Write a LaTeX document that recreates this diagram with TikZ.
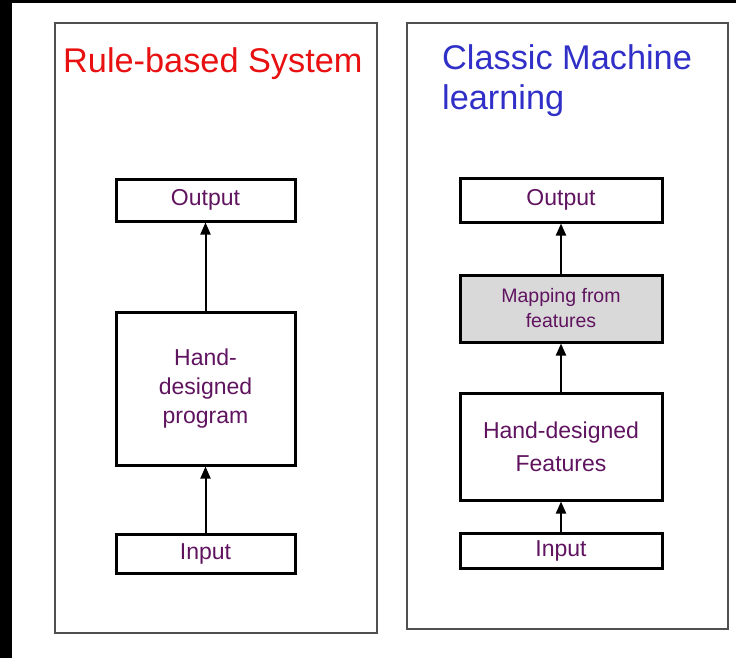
\documentclass[tikz,border=0pt]{standalone}
\usepackage{fontspec}
\setmainfont{Liberation Sans}
\usetikzlibrary{arrows.meta}
\definecolor{titlered}{RGB}{232,16,16}
\definecolor{titleblue}{RGB}{48,48,200}
\definecolor{labelpurple}{RGB}{96,20,96}
\definecolor{panelgray}{RGB}{80,80,80}
\definecolor{boxgray}{RGB}{217,217,217}
\tikzset{
  panel/.style={draw=panelgray, line width=1.5pt},
  stepbox/.style={draw=black, line width=3pt, rectangle, inner sep=0pt,
    align=center, text=labelpurple, font=\fontsize{23}{27}\selectfont},
  smallbox/.style={stepbox, fill=boxgray, font=\fontsize{19.5}{25}\selectfont},
  title/.style={anchor=base west, inner sep=0pt, font=\fontsize{34.3}{40}\selectfont},
  flow/.style={draw=black, line width=2pt, -{Triangle[width=10pt,length=12pt]}}
}
\begin{document}
\begin{tikzpicture}[x=1pt, y=-1pt]
\useasboundingbox (0,0) rectangle (736,658);
\fill[white] (0,0) rectangle (736,658);
% dark strips along the top and left edges
\fill[black] (0,0) rectangle (12,658);
\fill[black] (0,0) rectangle (736,3);

% left panel: rule-based system
\draw[panel] (55,23) rectangle (377,633);
\node[title, text=titlered] (titleL) at (63,73) {Rule-based System};
\node[stepbox, minimum width=179pt, minimum height=42pt] (outL) at (205.5,200) {Output};
\node[stepbox, minimum width=179pt, minimum height=153pt, font=\fontsize{23}{29}\selectfont] (progL) at (205.5,388.5) {Hand-\\designed\\program};
\node[stepbox, minimum width=179pt, minimum height=39pt] (inL) at (205.5,553.5) {Input};
\draw[flow] (progL) -- (outL);
\draw[flow] (inL) -- (progL);

% right panel: classic machine learning
\draw[panel] (407,23) rectangle (728,629);
\node[title, text=titleblue] (titleR) at (442,70) {Classic Machine};
\node[title, text=titleblue] (titleR2) at (442,110) {learning};
\node[stepbox, minimum width=202pt, minimum height=44pt] (outR) at (561,200) {Output};
\node[smallbox, minimum width=202pt, minimum height=67pt] (mapR) at (561,308.5) {Mapping from\\features};
\node[stepbox, minimum width=202pt, minimum height=107pt, font=\fontsize{23}{33}\selectfont] (featR) at (561,446.5) {Hand-designed\\Features};
\node[stepbox, minimum width=202pt, minimum height=35pt] (inR) at (561,550.5) {Input};
\draw[flow] (mapR) -- (outR);
\draw[flow] (featR) -- (mapR);
\draw[flow] (inR) -- (featR);
\end{tikzpicture}
\end{document}
